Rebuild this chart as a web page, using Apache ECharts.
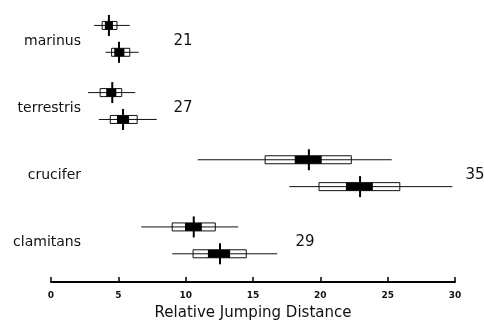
<!DOCTYPE html>
<html>
<head>
<meta charset="utf-8">
<script src="https://cdn.jsdelivr.net/npm/echarts@6/dist/echarts.min.js"></script>
<style>
  html, body { margin: 0; padding: 0; background: #fff; }
  #chart { width: 484px; height: 321px; }
</style>
</head>
<body>
<div id="chart"></div>
<script>
// two rows per species, top to bottom
var species = ['marinus', 'terrestris', 'crucifer', 'clamitans'];
var counts = [21, 27, 35, 29];

var rangeLow  = [3.2, 4.05, 2.75, 3.55, 10.9, 17.7, 6.7, 9.0];
var rangeHigh = [5.85, 6.5, 6.25, 7.85, 25.3, 29.8, 13.9, 16.8];
var sdLow     = [3.8, 4.5, 3.65, 4.4, 15.9, 19.9, 9.0, 10.55];
var sdHigh    = [4.9, 5.85, 5.25, 6.4, 22.3, 25.9, 12.2, 14.5];
var seLow     = [4.0, 4.7, 4.1, 4.9, 18.1, 21.9, 9.95, 11.65];
var seHigh    = [4.6, 5.45, 4.85, 5.8, 20.1, 23.9, 11.2, 13.3];
var means     = [4.3, 5.05, 4.55, 5.35, 19.15, 22.95, 10.6, 12.55];

var ticks = [0, 5, 10, 15, 20, 25, 30];

// slot on the hidden y axis: groups of 2 rows, 3 slots apart
function slotOf(i) { return Math.floor(i / 2) * 5 + (i % 2) * 2; }

var rows = means.map(function (m, i) {
    return [rangeLow[i], sdLow[i], seLow[i], m, seHigh[i], sdHigh[i], rangeHigh[i], slotOf(i)];
});

var myChart = echarts.init(document.getElementById('chart'));

function renderRow(params, api) {
    var y = api.value(7);
    var p = function (x) { return api.coord([api.value(x), y]); };
    var lo = p(0), sl = p(1), el = p(2), mn = p(3), eh = p(4), sh = p(5), hi = p(6);
    var h = 8;
    return {
        type: 'group',
        children: [
            { type: 'rect', shape: { x: sl[0], y: sl[1] - h / 2, width: sh[0] - sl[0], height: h },
              style: { fill: '#fff', stroke: '#111', lineWidth: 1 } },
            { type: 'line', shape: { x1: lo[0], y1: lo[1], x2: hi[0], y2: hi[1] },
              style: { stroke: '#111', lineWidth: 1 } },
            { type: 'rect', shape: { x: el[0], y: el[1] - h / 2, width: eh[0] - el[0], height: h },
              style: { fill: '#000' } },
            { type: 'line', shape: { x1: mn[0], y1: mn[1] - 10.5, x2: mn[0], y2: mn[1] + 10.5 },
              style: { stroke: '#000', lineWidth: 2 } }
        ]
    };
}

var option = {
    animation: false,
    backgroundColor: '#fff',
    grid: { left: 51, right: 29, top: 12, height: 270, outerBoundsMode: 'none' },
    xAxis: {
        type: 'value',
        min: 0,
        max: 30,
        interval: 5,
        name: 'Relative Jumping Distance',
        nameLocation: 'middle',
        nameGap: 24,
        nameTextStyle: { fontFamily: 'DejaVu Sans', fontSize: 15, color: '#111' },
        axisLine: { show: true, onZero: false, lineStyle: { color: '#000', width: 2 } },
        axisTick: { show: true, inside: true, length: 5, lineStyle: { color: '#000', width: 1.5 } },
        axisLabel: {
            margin: 9, fontSize: 9, fontWeight: 'bold', color: '#111', fontFamily: 'DejaVu Sans',
            formatter: function (v) { return ticks.indexOf(v) >= 0 ? String(v) : ''; }
        },
        splitLine: { show: false }
    },
    yAxis: { type: 'value', min: -1, max: 19.1, inverse: true, show: false },
    series: [{
        type: 'custom',
        renderItem: renderRow,
        data: rows,
        encode: { x: [0, 6], y: 7 },
        silent: true
    }]
};

myChart.setOption(option);

// species names and sample sizes beside each pair of rows
var labelX = 81;
var countX = [183, 183, 475, 305];
var texts = [];
species.forEach(function (name, g) {
    var y = myChart.convertToPixel({ gridIndex: 0 }, [0, g * 5 + 1])[1] + 2;
    texts.push({ type: 'text', x: labelX, y: y, style: {
        text: name, align: 'right', verticalAlign: 'middle',
        font: '14px "DejaVu Sans"', fill: '#111' } });
    texts.push({ type: 'text', x: countX[g], y: y, style: {
        text: String(counts[g]), align: 'center', verticalAlign: 'middle',
        font: '15px "DejaVu Sans"', fill: '#111' } });
});
myChart.setOption({ graphic: texts });
</script>
</body>
</html>
